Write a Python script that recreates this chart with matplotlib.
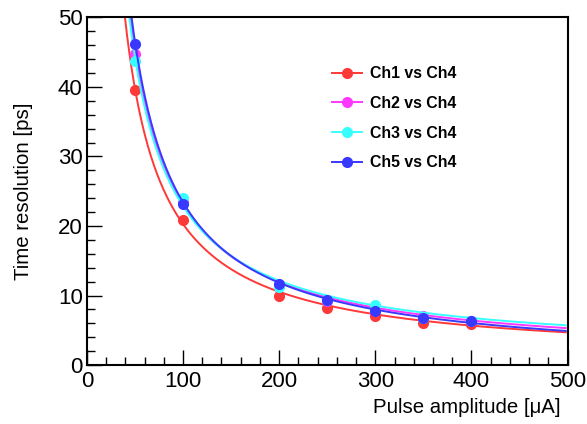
import matplotlib
matplotlib.use("Agg")
import matplotlib.pyplot as plt
import numpy as np
from matplotlib.lines import Line2D
from matplotlib.ticker import MultipleLocator

plt.rcParams["font.family"] = ["Liberation Sans", "DejaVu Sans"]

# pulse amplitude points (uA)
amplitude = [50, 100, 200, 250, 300, 350, 400]

# measured time resolution (ps)
res_ch1 = [39.5, 20.8, 9.9, 8.2, 7.1, 6.1, 5.9]
res_ch2 = [44.8, 23.5, 11.5, 9.2, 7.8, 7.1, 6.3]
res_ch3 = [43.7, 24.0, 11.2, 9.3, 8.6, 6.8, 6.3]
res_ch5 = [46.2, 23.1, 11.7, 9.4, 7.8, 6.7, 6.4]

# fit parameters of sigma = a / A + b
fit_a = [1948.0, 2216.0, 2142.0, 2313.0]
fit_b = [0.80, 0.87, 1.42, 0.27]

labels = ["Ch1 vs Ch4", "Ch2 vs Ch4", "Ch3 vs Ch4", "Ch5 vs Ch4"]
colors = ["#ff3838", "#ff38ff", "#38ffff", "#3838ff"]


def main() -> None:
    fig = plt.figure(figsize=(5.87, 4.24), dpi=100)
    ax = fig.add_axes([0.148, 0.139, 0.819, 0.820])

    x_fit = np.linspace(30, 498, 600)
    series = [res_ch1, res_ch2, res_ch3, res_ch5]
    for values, a, b, color in zip(series, fit_a, fit_b, colors):
        ax.plot(x_fit, a / x_fit + b, color=color, lw=1.4)
        ax.plot(amplitude, values, "o", color=color, ms=7)

    ax.set_xlim(0, 500)
    ax.set_ylim(0, 50)
    ax.xaxis.set_major_locator(MultipleLocator(100))
    ax.xaxis.set_minor_locator(MultipleLocator(20))
    ax.yaxis.set_major_locator(MultipleLocator(10))
    ax.yaxis.set_minor_locator(MultipleLocator(2))
    ax.tick_params(which="both", direction="in", top=False, right=False,
                   labelsize=16, width=1)
    ax.tick_params(which="major", length=11)
    ax.tick_params(which="minor", length=6)
    ax.tick_params(axis="x", pad=4)
    ax.tick_params(axis="y", pad=3)
    for spine in ax.spines.values():
        spine.set_linewidth(1.5)

    ax.set_xlabel("Pulse amplitude [\u03bcA]", fontsize=14.7, loc="right")
    ax.xaxis.set_label_coords(0.985, -0.095)
    ax.set_ylabel("Time resolution [ps]", fontsize=14.7)
    ax.yaxis.set_label_coords(-0.112, 0.5)

    handles = [Line2D([], [], color=c, marker="o", ms=7, lw=1.4) for c in colors]
    ax.legend(handles, labels, loc="upper left", bbox_to_anchor=(0.48, 0.90),
              frameon=False, prop={"weight": "bold", "size": 11.4},
              handlelength=1.9, labelspacing=0.92, handletextpad=0.5)

    fig.savefig("out.png", dpi=100)
    plt.close(fig)


if __name__ == "__main__":
    main()
